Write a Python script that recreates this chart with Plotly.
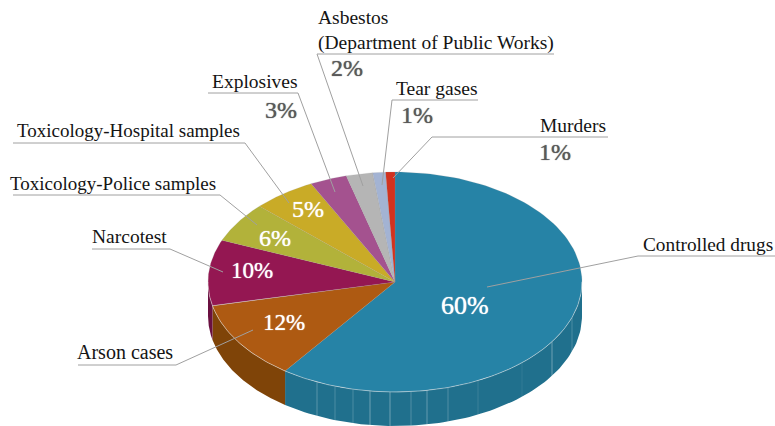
import numpy as np
import plotly.graph_objects as go

categories = ["Controlled drugs", "Arson cases", "Narcotest", "Toxicology-Police samples",
              "Toxicology-Hospital samples", "Explosives", "Asbestos<br>(Department of Public Works)",
              "Tear gases", "Murders"]
values = [60, 11.5, 9.7, 5.9, 5.5, 3.2, 2.3, 1.1, 0.8]
pct_labels = ["60%", "12%", "10%", "6%", "5%", "3%", "2%", "1%", "1%"]
top_colors = ["#2683a6", "#ae5a12", "#941752", "#b2b23a", "#c9ab27", "#a4528f", "#b5b5b5", "#a3b3d3", "#d1321f"]
side_colors = ["#20708d", "#7f4408", "#6a1040", "#7f7f2a", "#90791c", "#753b66", "#828282", "#7580a0", "#952416"]

# layout of the drawing (pixels of the 775x426 frame)
CX, CY, RX, RY, DEPTH = 395.0, 282.0, 187.0, 110.0, 34.0
FONT = "Liberation Serif"
leaders = [
    [(487, 287), (638, 256), (775, 256)],
    [(253, 330), (176, 365), (78, 365)],
    [(223, 272), (170, 249), (92, 249)],
    [(257, 225), (220, 195), (13, 195)],
    [(289, 203), (245, 143), (13, 143)],
    [(335, 192), (298, 93), (208, 93)],
    [(363, 186), (317, 54), (554, 54)],
    [(382, 185), (392, 100), (478, 100)],
    [(393, 178), (432, 137), (608, 137)],
]
name_pos = [(641, 244), (75, 352), (90, 236), (8, 183), (15, 130), (210, 81), (316, 30), (394, 88), (538, 125)]
name_size = [19.3, 20, 19.5, 19, 19, 19.5, 19.5, 19.5, 19.5]
pct_pos = [(465, 305), (284, 322), (252, 270), (275, 238), (308, 209), (281, 110), (347, 68), (417, 115), (555, 152)]
pct_size = [26, 23, 23, 24, 24, 24, 24, 24, 24]
pct_inside = [True, True, True, True, True, False, False, False, False]
seam_x = [317, 335, 353, 370, 390, 411, 427, 448, 478, 522, 552, 572]
seam_alpha = [.25, .2, .2, .35, .35, .22, .3, .22, .12, .08, .35, .2]


def ell(angle_deg):
    a = np.radians(angle_deg)
    return CX + RX * np.sin(a), CY - RY * np.cos(a)


fig = go.Figure()
edges = np.concatenate([[0], np.cumsum(values)]) * 3.6
edges[-1] = 360

# side wall
for i in range(len(values)):
    a0, a1 = max(edges[i], 90), min(edges[i + 1], 270)
    if a1 <= a0:
        continue
    t = np.linspace(a0, a1, 90)
    x, y = ell(t)
    fig.add_trace(go.Scatter(
        x=np.r_[x, x[::-1]], y=np.r_[y, (y + DEPTH)[::-1]], mode="lines", fill="toself",
        fillcolor=side_colors[i], line=dict(width=0), hoverinfo="skip", showlegend=False))

# seams on the wall
for sx, al in zip(seam_x, seam_alpha):
    s = np.sqrt(1 - ((sx - CX) / RX) ** 2)
    y0 = CY + RY * s
    fig.add_trace(go.Scatter(x=[sx, sx], y=[y0, y0 + DEPTH], mode="lines",
                             line=dict(color=f"rgba(255,255,255,{al})", width=1),
                             hoverinfo="skip", showlegend=False))

# top
for i in range(len(values)):
    t = np.linspace(edges[i], edges[i + 1], 120)
    x, y = ell(t)
    fig.add_trace(go.Scatter(
        x=np.r_[CX, x, CX], y=np.r_[CY, y, CY], mode="lines", fill="toself",
        fillcolor=top_colors[i], line=dict(color="rgba(150,150,150,0.35)", width=0.5),
        hoverinfo="skip", showlegend=False))

# light rim
t = np.linspace(90, 270, 200)
x, y = ell(t)
fig.add_trace(go.Scatter(x=x, y=y, mode="lines", line=dict(color="rgba(255,255,255,0.4)", width=1),
                         hoverinfo="skip", showlegend=False))

# leader lines
for pts in leaders:
    fig.add_trace(go.Scatter(x=[p[0] for p in pts], y=[p[1] for p in pts], mode="lines",
                             line=dict(color="#a0a0a0", width=1), hoverinfo="skip", showlegend=False))

ann = []
for name, (nx, ny), ns in zip(categories, name_pos, name_size):
    ann.append(dict(x=nx, y=ny, xref="x", yref="y", text=name, showarrow=False, xanchor="left",
                    yanchor="middle", align="left", font=dict(family=FONT, size=ns, color="#141414")))
for lab, (px, py), inside, size in zip(pct_labels, pct_pos, pct_inside, pct_size):
    col = "#ffffff" if inside else "#595959"
    ann.append(dict(x=px, y=py, xref="x", yref="y", text=lab, showarrow=False,
                    xanchor="center", yanchor="middle",
                    font=dict(family=FONT, size=size, color=col, shadow=f"0 0 1px {col}")))

fig.update_layout(
    width=775, height=426, margin=dict(l=0, r=0, t=0, b=0), paper_bgcolor="white", plot_bgcolor="white",
    showlegend=False, annotations=ann,
    xaxis=dict(range=[0, 775], visible=False, fixedrange=True),
    yaxis=dict(range=[426, 0], visible=False, fixedrange=True),
)
fig.write_html("out.html", config={"displayModeBar": False},
               post_script="document.body.style.margin='0';document.body.style.overflow='hidden';")
